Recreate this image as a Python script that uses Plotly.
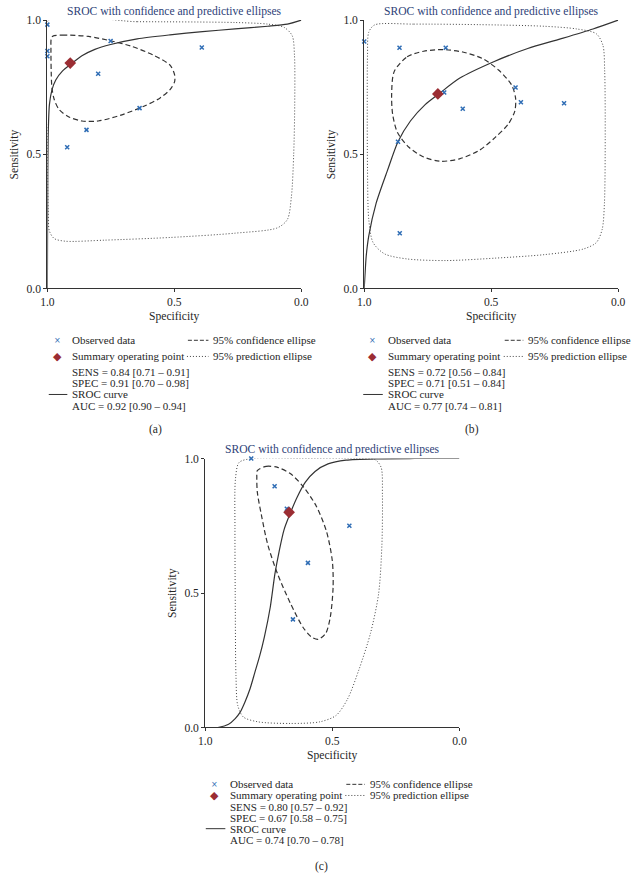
import plotly.graph_objects as go

W, H = 632, 881
FONT = "Liberation Serif"
TITLE_COLOR = "#2e3f78"
BLUE = "#2f6db5"
RED = "#9b2d33"
LINE = "#333333"
TXT = "#262626"

TITLE = "SROC with confidence and predictive ellipses"
TICKVALS = [0.0, 0.5, 1.0]
TICKTEXT = ["0.0", "0.5", "1.0"]

# ---------------- Panel (a) ----------------
a_obs_spec = [1.0, 1.0, 1.0, 0.751, 0.392, 0.80, 0.637, 0.846, 0.922]
a_obs_sens = [0.983, 0.885, 0.865, 0.922, 0.898, 0.80, 0.672, 0.591, 0.526]
a_sum_spec = [0.91]
a_sum_sens = [0.84]
a_sroc_spec = [1.0, 0.999, 0.997, 0.992, 0.982, 0.967, 0.941, 0.906, 0.864, 0.813,
               0.751, 0.646, 0.517, 0.389, 0.261, 0.132, 0.055, 0.0]
a_sroc_sens = [0.0, 0.318, 0.563, 0.685, 0.740, 0.777, 0.810, 0.837, 0.867, 0.891,
               0.909, 0.930, 0.945, 0.957, 0.967, 0.977, 0.985, 1.0]
a_conf_spec = [0.979, 0.941, 0.838, 0.748, 0.671, 0.582, 0.517, 0.499, 0.499, 0.517,
               0.556, 0.620, 0.710, 0.800, 0.864, 0.915, 0.954, 0.973, 0.982, 0.985,
               0.986, 0.985, 0.979]
a_conf_sens = [0.940, 0.944, 0.939, 0.922, 0.903, 0.869, 0.832, 0.796, 0.771, 0.741,
               0.710, 0.679, 0.646, 0.624, 0.624, 0.639, 0.667, 0.704, 0.747, 0.808,
               0.894, 0.930, 0.940]
a_pred_spec = [1.0, 0.646, 0.261, 0.132, 0.068, 0.036, 0.027, 0.026, 0.030, 0.039,
               0.055, 0.094, 0.261, 0.517, 0.774, 0.928, 0.973, 0.992, 0.997, 1.0, 1.0]
a_pred_sens = [0.994, 0.994, 0.991, 0.985, 0.973, 0.942, 0.869, 0.685, 0.502, 0.343,
               0.257, 0.226, 0.206, 0.190, 0.180, 0.176, 0.186, 0.214, 0.294, 0.563, 0.994]
a_text = ["SENS = 0.84 [0.71 \u2013 0.91]", "SPEC = 0.91 [0.70 \u2013 0.98]",
          "AUC = 0.92 [0.90 \u2013 0.94]"]

# ---------------- Panel (b) ----------------
b_obs_spec = [1.0, 0.861, 0.679, 0.404, 0.685, 0.383, 0.213, 0.612, 0.867, 0.860]
b_obs_sens = [0.920, 0.897, 0.897, 0.749, 0.730, 0.694, 0.690, 0.670, 0.547, 0.206]
b_sum_spec = [0.71]
b_sum_sens = [0.725]
b_sroc_spec = [1.0, 0.997, 0.992, 0.982, 0.953, 0.908, 0.867, 0.818, 0.760, 0.706,
               0.625, 0.490, 0.356, 0.227, 0.099, 0.0]
b_sroc_sens = [0.0, 0.049, 0.122, 0.196, 0.318, 0.441, 0.547, 0.624, 0.685, 0.725,
               0.783, 0.845, 0.894, 0.930, 0.967, 1.0]
b_conf_spec = [0.882, 0.831, 0.766, 0.689, 0.612, 0.535, 0.471, 0.420, 0.404, 0.407,
               0.433, 0.484, 0.548, 0.625, 0.702, 0.766, 0.824, 0.869, 0.888, 0.892, 0.882]
b_conf_sens = [0.808, 0.863, 0.884, 0.890, 0.881, 0.857, 0.814, 0.759, 0.710, 0.661,
               0.612, 0.563, 0.514, 0.483, 0.474, 0.490, 0.526, 0.581, 0.649, 0.722, 0.808]
b_pred_spec = [0.959, 0.805, 0.548, 0.291, 0.163, 0.086, 0.060, 0.053, 0.051, 0.054,
               0.063, 0.086, 0.137, 0.291, 0.484, 0.677, 0.831, 0.920, 0.965, 0.982,
               0.987, 0.988, 0.987, 0.982, 0.959]
b_pred_sens = [0.982, 0.985, 0.983, 0.977, 0.967, 0.949, 0.906, 0.808, 0.563, 0.318,
               0.220, 0.171, 0.147, 0.126, 0.113, 0.104, 0.110, 0.129, 0.171, 0.257,
               0.441, 0.685, 0.869, 0.955, 0.982]
b_text = ["SENS = 0.72 [0.56 \u2013 0.84]", "SPEC = 0.71 [0.51 \u2013 0.84]",
          "AUC = 0.77 [0.74 \u2013 0.81]"]

# ---------------- Panel (c) ----------------
c_obs_spec = [0.819, 0.727, 0.679, 0.433, 0.596, 0.655]
c_obs_sens = [1.0, 0.897, 0.813, 0.750, 0.612, 0.402]
c_sum_spec = [0.67]
c_sum_sens = [0.80]
c_sroc_spec = [1.0, 0.946, 0.908, 0.882, 0.863, 0.844, 0.824, 0.805, 0.786, 0.767,
               0.744, 0.726, 0.709, 0.690, 0.664, 0.638, 0.606, 0.568, 0.517, 0.446,
               0.331, 0.177, 0.0]
c_sroc_sens = [0.0, 0.001, 0.012, 0.033, 0.056, 0.094, 0.143, 0.204, 0.265, 0.338,
               0.448, 0.570, 0.656, 0.735, 0.800, 0.857, 0.912, 0.952, 0.980, 0.994,
               0.999, 1.0, 1.0]
c_conf_spec = [0.795, 0.760, 0.715, 0.664, 0.613, 0.562, 0.523, 0.500, 0.497, 0.508,
               0.526, 0.555, 0.581, 0.613, 0.664, 0.715, 0.754, 0.779, 0.795, 0.797, 0.795]
c_conf_sens = [0.955, 0.971, 0.967, 0.943, 0.894, 0.821, 0.729, 0.619, 0.521, 0.411,
               0.350, 0.328, 0.336, 0.369, 0.460, 0.570, 0.680, 0.790, 0.875, 0.930, 0.955]
c_pred_spec = [0.867, 0.818, 0.626, 0.408, 0.331, 0.308, 0.303, 0.305, 0.318, 0.350,
               0.395, 0.440, 0.485, 0.549, 0.664, 0.792, 0.850, 0.872, 0.879, 0.882,
               0.883, 0.881, 0.867]
c_pred_sens = [0.985, 1.0, 1.0, 1.0, 0.995, 0.967, 0.863, 0.680, 0.497, 0.350,
               0.216, 0.106, 0.045, 0.021, 0.015, 0.021, 0.039, 0.082, 0.192, 0.497,
               0.741, 0.924, 0.985]
c_text = ["SENS = 0.80 [0.57 \u2013 0.92]", "SPEC = 0.67 [0.58 \u2013 0.75]",
          "AUC = 0.74 [0.70 \u2013 0.78]"]

LEG_LABELS = ["Observed data", "Summary operating point", "SROC curve",
              "95% confidence ellipse", "95% prediction ellipse"]


def px(x):
    return x / W


def py(y):
    return 1 - y / H


fig = go.Figure()

panels = [
    dict(ax="", spec=(a_obs_spec, a_obs_sens), summ=(a_sum_spec, a_sum_sens),
         sroc=(a_sroc_spec, a_sroc_sens), conf=(a_conf_spec, a_conf_sens),
         pred=(a_pred_spec, a_pred_sens), text=a_text,
         box=(41.3, 301.0, 14.3, 286.7), leg=dict(x0=51.7, tx=65.7, dx=185, dtx=210,
                                                   rows=[339.3, 355.7, 371.2, 383.0, 394.3, 406.0]),
         lab="(a)", labxy=(152, 430)),
    dict(ax="2", spec=(b_obs_spec, b_obs_sens), summ=(b_sum_spec, b_sum_sens),
         sroc=(b_sroc_spec, b_sroc_sens), conf=(b_conf_spec, b_conf_sens),
         pred=(b_pred_spec, b_pred_sens), text=b_text,
         box=(365.3, 625.0, 14.3, 286.7), leg=dict(x0=373.3, tx=388.3, dx=509, dtx=532,
                                                    rows=[339.3, 355.7, 371.2, 383.0, 394.3, 406.0]),
         lab="(b)", labxy=(476, 430)),
    dict(ax="3", spec=(c_obs_spec, c_obs_sens), summ=(c_sum_spec, c_sum_sens),
         sroc=(c_sroc_spec, c_sroc_sens), conf=(c_conf_spec, c_conf_sens),
         pred=(c_pred_spec, c_pred_sens), text=c_text,
         box=(202.7, 462.7, 459.3, 732.3), leg=dict(x0=212.3, tx=227.3, dx=347, dtx=370,
                                                     rows=[790.0, 801.3, 813.0, 824.3, 835.0, 846.0]),
         lab="(c)", labxy=(322, 873)),
]

annotations = []
shapes = []
layout_axes = {}
FS = 11.6
LFS = 11

for p in panels:
    xa = "x" + p["ax"]
    ya = "y" + p["ax"]
    common = dict(xaxis=xa, yaxis=ya, showlegend=False, cliponaxis=False, hoverinfo="skip")
    fig.add_trace(go.Scatter(x=p["pred"][0], y=p["pred"][1], mode="lines",
                             line=dict(color="#444444", width=1, dash="1px,2px",
                                       shape="spline", smoothing=0.8), **common))
    fig.add_trace(go.Scatter(x=p["conf"][0], y=p["conf"][1], mode="lines",
                             line=dict(color=LINE, width=1.2, dash="5px,3px",
                                       shape="spline", smoothing=0.8), **common))
    fig.add_trace(go.Scatter(x=p["sroc"][0], y=p["sroc"][1], mode="lines",
                             line=dict(color=LINE, width=1.2, shape="spline", smoothing=0.7),
                             **common))
    fig.add_trace(go.Scatter(x=p["spec"][0], y=p["spec"][1], mode="markers",
                             marker=dict(symbol="x-thin", size=4, color=BLUE,
                                         line=dict(color=BLUE, width=1.5)), **common))
    fig.add_trace(go.Scatter(x=p["summ"][0], y=p["summ"][1], mode="markers",
                             marker=dict(symbol="diamond", size=9, color=RED,
                                         line=dict(width=0)), **common))

    x0, x1, y0, y1 = p["box"]
    xkey = "xaxis" + p["ax"]
    ykey = "yaxis" + p["ax"]
    axcommon = dict(tickvals=TICKVALS, ticktext=TICKTEXT, ticks="outside",
                    ticklen=3, tickcolor=LINE, showline=True, linecolor=LINE,
                    linewidth=1, showgrid=False, zeroline=False,
                    tickfont=dict(family=FONT, size=FS, color=TXT))
    layout_axes[xkey] = dict(domain=[px(x0), px(x1)], range=[1, 0], anchor=ya, **axcommon)
    layout_axes[ykey] = dict(domain=[py(y1), py(y0)], range=[0, 1], anchor=xa, **axcommon)

    cx = (x0 + x1) / 2
    annotations.append(dict(text=TITLE, x=px(cx), y=py(y0 - 9), xref="paper", yref="paper",
                            showarrow=False, xanchor="center", yanchor="middle",
                            font=dict(family=FONT, size=FS, color=TITLE_COLOR)))
    annotations.append(dict(text="Specificity", x=px(cx), y=py(y1 + 28.5), xref="paper",
                            yref="paper", showarrow=False, xanchor="center", yanchor="middle",
                            font=dict(family=FONT, size=FS, color=TXT)))
    annotations.append(dict(text="Sensitivity", x=px(x0 - 34), y=py((y0 + y1) / 2),
                            xref="paper", yref="paper", showarrow=False, textangle=-90,
                            xanchor="center", yanchor="middle",
                            font=dict(family=FONT, size=FS, color=TXT)))

    lg = p["leg"]
    r = lg["rows"]
    tf = dict(family=FONT, size=LFS, color=TXT)
    annotations.append(dict(text="\u00d7", x=px(lg["x0"]), y=py(r[0]), xref="paper",
                            yref="paper", showarrow=False, xanchor="center",
                            yanchor="middle", font=dict(family="DejaVu Sans", size=8,
                                                        color=BLUE)))
    annotations.append(dict(text="\u25c6", x=px(lg["x0"]), y=py(r[1]), xref="paper",
                            yref="paper", showarrow=False, xanchor="center",
                            yanchor="middle", font=dict(family="DejaVu Sans", size=11,
                                                        color=RED)))
    shapes.append(dict(type="line", xref="paper", yref="paper",
                       x0=px(lg["x0"] - 9), x1=px(lg["tx"] - 4), y0=py(r[4]), y1=py(r[4]),
                       line=dict(color=LINE, width=1)))
    shapes.append(dict(type="line", xref="paper", yref="paper",
                       x0=px(lg["dx"]), x1=px(lg["dtx"] - 4), y0=py(r[0]), y1=py(r[0]),
                       line=dict(color=LINE, width=1, dash="4px,2px")))
    shapes.append(dict(type="line", xref="paper", yref="paper",
                       x0=px(lg["dx"] - 1), x1=px(lg["dtx"] - 4), y0=py(r[1]), y1=py(r[1]),
                       line=dict(color="#444444", width=1, dash="1px,2px")))
    lines = [(LEG_LABELS[0], r[0]), (LEG_LABELS[1], r[1]), (p["text"][0], r[2]),
             (p["text"][1], r[3]), (LEG_LABELS[2], r[4]), (p["text"][2], r[5])]
    for t, yy in lines:
        annotations.append(dict(text=t, x=px(lg["tx"]), y=py(yy), xref="paper",
                                yref="paper", showarrow=False, xanchor="left",
                                yanchor="middle", borderpad=0, font=tf))
    annotations.append(dict(text=LEG_LABELS[3], x=px(lg["dtx"]), y=py(r[0]), xref="paper",
                            yref="paper", showarrow=False, xanchor="left", yanchor="middle",
                            borderpad=0, font=tf))
    annotations.append(dict(text=LEG_LABELS[4], x=px(lg["dtx"]), y=py(r[1]), xref="paper",
                            yref="paper", showarrow=False, xanchor="left", yanchor="middle",
                            borderpad=0, font=tf))
    annotations.append(dict(text=p["lab"], x=px(p["labxy"][0]), y=py(p["labxy"][1]),
                            xref="paper", yref="paper", showarrow=False, xanchor="center",
                            yanchor="middle", font=dict(family=FONT, size=FS, color=TXT)))

fig.update_layout(width=W, height=H, margin=dict(l=0, r=0, t=0, b=0),
                  paper_bgcolor="white", plot_bgcolor="white",
                  annotations=annotations, shapes=shapes, **layout_axes)

fig.write_html("out.html", config={"displayModeBar": False},
               post_script="document.body.style.margin='0';document.body.style.overflow='hidden';")
